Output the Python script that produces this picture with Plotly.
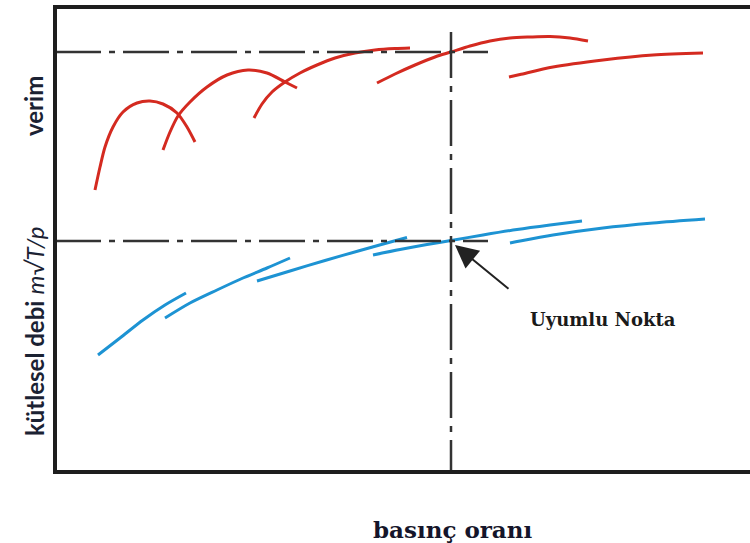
import plotly.graph_objects as go

# ---- data (arbitrary chart units) ----
# efficiency (verim) characteristic curves - red
r1_x = [40, 45, 50, 58, 68, 82, 95, 108, 122, 132, 140]
r1_y = [282, 305, 325, 345, 360, 369, 371, 368, 359, 345, 330]
r2_x = [108, 115, 123, 135, 152, 172, 193, 212, 230, 242]
r2_y = [322, 340, 356, 370, 385, 397, 402, 399, 390, 384]
r3_x = [199, 207, 217, 230, 245, 262, 280, 300, 320, 340, 355]
r3_y = [354, 368, 380, 390, 399, 407, 414, 419, 422, 423.5, 424]
r4_x = [322, 340, 360, 380, 396, 415, 435, 455, 475, 495, 515, 533]
r4_y = [389, 398, 407, 415, 420, 426, 431, 434, 435, 435.5, 434, 431]
r5_x = [454, 465, 498, 548, 598, 648]
r5_y = [395, 397.5, 405, 412, 417, 419]

# mass flow (kütlesel debi) characteristic curves - blue
b1_x = [43, 65, 88, 110, 131]
b1_y = [117, 134, 152, 167, 179]
b2_x = [110, 135, 162, 188, 212, 235]
b2_y = [154, 169, 182, 194, 204, 214]
b3_x = [202, 235, 270, 305, 330, 352]
b3_y = [191, 201, 211.5, 221.5, 228.5, 234.5]
b4_x = [318, 345, 372, 396, 428, 462, 495, 527]
b4_y = [217, 222.5, 227.5, 231.5, 237, 242.5, 247, 251]
b5_x = [455, 465, 498, 548, 598, 650]
b5_y = [229, 231, 237, 244, 249, 253]

# matching point and guide lines
match_x = 396
eff_match = 420
flow_match = 231
guide_end_x = 433
guide_top_y = 440
arrow_tail = (455, 182)

x_label = "basınç oranı"
y_label_top = "verim"
y_label_bottom = "<b>kütlesel debi</b> <i>m√T/p</i>"
point_label = "Uyumlu Nokta"

RED = "#d42a20"
BLUE = "#1d93d3"
DASH = "46px,8px,6px,8px"
GUIDE = "#333333"

fig = go.Figure()

for xs, ys in [(r1_x, r1_y), (r2_x, r2_y), (r3_x, r3_y), (r4_x, r4_y), (r5_x, r5_y)]:
    fig.add_trace(go.Scatter(x=xs, y=ys, mode="lines",
                             line=dict(color=RED, width=3, shape="spline", smoothing=0.8),
                             hoverinfo="skip", showlegend=False))
for xs, ys in [(b1_x, b1_y), (b2_x, b2_y), (b3_x, b3_y), (b4_x, b4_y), (b5_x, b5_y)]:
    fig.add_trace(go.Scatter(x=xs, y=ys, mode="lines",
                             line=dict(color=BLUE, width=3, shape="spline", smoothing=0.8),
                             hoverinfo="skip", showlegend=False))

# dash-dot guide lines
fig.add_trace(go.Scatter(x=[0, guide_end_x], y=[eff_match, eff_match], mode="lines",
                         line=dict(color=GUIDE, width=2.5, dash=DASH),
                         hoverinfo="skip", showlegend=False))
fig.add_trace(go.Scatter(x=[0, guide_end_x], y=[flow_match, flow_match], mode="lines",
                         line=dict(color=GUIDE, width=2.5, dash=DASH),
                         hoverinfo="skip", showlegend=False))
fig.add_trace(go.Scatter(x=[match_x, match_x], y=[guide_top_y, 0], mode="lines",
                         line=dict(color=GUIDE, width=2.5, dash=DASH),
                         hoverinfo="skip", showlegend=False))

# arrow to matching point
fig.add_annotation(x=match_x + 4, y=flow_match - 4, ax=arrow_tail[0], ay=arrow_tail[1],
                   xref="x", yref="y", axref="x", ayref="y",
                   text="", showarrow=True, arrowhead=2, arrowsize=2.3,
                   arrowwidth=2, arrowcolor="#222222", standoff=0)

fig.add_annotation(x=548, y=153, xref="x", yref="y", text="<b>" + point_label + "</b>",
                   showarrow=False, xanchor="center", yanchor="middle",
                   font=dict(family="DejaVu Serif", size=18, color="#1a1a1a"))
fig.add_annotation(x=0.5714, y=-0.128, xref="paper", yref="paper",
                   text="<b>" + x_label + "</b>", showarrow=False,
                   xanchor="center", yanchor="middle",
                   font=dict(family="DejaVu Serif", size=23, color="#15152a"))
fig.add_annotation(x=-0.0332, y=0.7896, xref="paper", yref="paper",
                   text="<b>" + y_label_top + "</b>",
                   showarrow=False, textangle=-90, xanchor="center", yanchor="middle",
                   font=dict(family="Lato", size=24, color="#1b2233"))
fig.add_annotation(x=-0.0332, y=0.3015, xref="paper", yref="paper", text=y_label_bottom,
                   showarrow=False, textangle=-90, xanchor="center", yanchor="middle",
                   font=dict(family="Lato", size=24, color="#1b2233"))

fig.update_layout(
    width=750, height=543,
    margin=dict(l=57, r=0, t=9, b=73),
    paper_bgcolor="white", plot_bgcolor="white",
    xaxis=dict(range=[2, 695], showgrid=False, zeroline=False, showticklabels=False,
               ticks="", showline=True, linecolor="#1e1e1e", linewidth=4, mirror=True,
               fixedrange=True),
    yaxis=dict(range=[2, 463], showgrid=False, zeroline=False, showticklabels=False,
               ticks="", showline=True, linecolor="#1e1e1e", linewidth=4, mirror=False,
               fixedrange=True),
)

fig.write_html("out.html", post_script="document.body.style.margin='0';",
               config={"displayModeBar": False})
